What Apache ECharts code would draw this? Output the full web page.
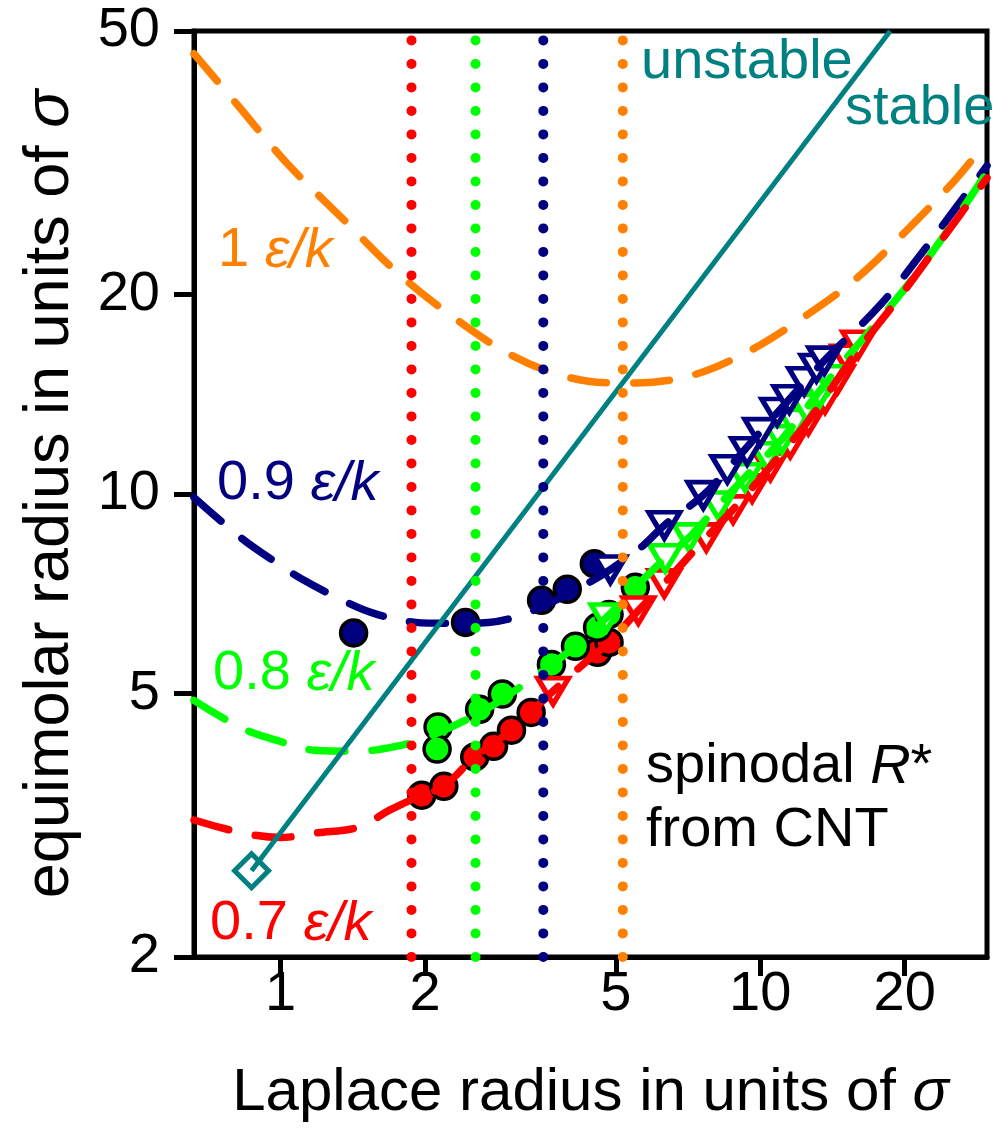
<!DOCTYPE html>
<html>
<head>
<meta charset="utf-8">
<script src="https://cdn.jsdelivr.net/npm/echarts@6/dist/echarts.min.js"></script>
<style>
html, body { margin: 0; padding: 0; background: #fff; }
#chart { width: 998px; height: 1138px; }
</style>
</head>
<body>
<div id="chart"></div>
<script>
const xTicks = [1, 2, 5, 10, 20]
const yTicks = [2, 5, 10, 20, 50]
const xRange = [0.66, 29.7]
const yRange = [2, 50]

// dashed model curves: [Laplace radius, equimolar radius]
const curve10 = [[0.66, 46.2], [0.81, 38.8], [1.03, 31.6], [1.35, 26.0], [1.75, 21.6], [2.29, 18.5], [3.03, 16.2], [3.98, 15.0], [5.11, 14.7], [6.94, 15.0], [9.13, 16.2], [12.06, 18.3], [15.8, 21.1], [20.2, 25.0], [25.6, 29.9], [29.7, 34.1]]
const curve09 = [[0.66, 9.88], [0.83, 8.57], [1.0, 7.80], [1.1, 7.46], [1.32, 6.96], [1.56, 6.61], [1.91, 6.40], [2.21, 6.38], [2.71, 6.40], [3.33, 6.65], [4.32, 7.30], [4.87, 7.69], [5.70, 8.36], [6.31, 8.97], [7.61, 9.96], [8.54, 10.9], [10.0, 12.4], [11.5, 13.9], [13.6, 15.9], [17.8, 19.3], [22.2, 23.6], [29.7, 31.3]]
const curve08 = [[0.66, 4.88], [0.83, 4.43], [1.0, 4.23], [1.19, 4.10], [1.45, 4.09], [1.74, 4.16], [2.02, 4.29], [2.61, 4.68], [3.27, 5.20], [3.67, 5.53], [4.12, 5.89], [4.78, 6.51], [5.49, 7.23], [6.34, 8.0], [7.11, 8.6], [8.18, 9.61], [9.3, 10.6], [11.1, 12.1], [13.9, 14.9], [20.0, 20.4], [24.5, 24.9], [29.7, 30.6]]
const curve07 = [[0.66, 3.22], [0.83, 3.08], [1.0, 3.03], [1.19, 3.08], [1.45, 3.14], [1.70, 3.34], [1.97, 3.51], [2.19, 3.62], [2.54, 4.01], [3.03, 4.40], [3.70, 5.04], [4.32, 5.57], [4.84, 5.97], [5.57, 6.67], [6.31, 7.33], [7.72, 8.6], [8.78, 9.48], [10.5, 11.0], [12.6, 12.9], [14.5, 14.9], [16.0, 16.5], [19.8, 20.1], [24.2, 24.5], [29.7, 30.0]]

// simulation results
const circles09 = [[1.42, 6.17], [2.43, 6.40], [3.50, 6.91], [3.96, 7.18], [4.51, 7.85]]
const circles08 = [[2.13, 4.45], [2.12, 4.12], [2.60, 4.73], [2.90, 4.99], [3.67, 5.53], [4.12, 5.89], [4.58, 6.29], [4.84, 6.58], [5.49, 7.23]]
const circles07 = [[1.97, 3.51], [2.19, 3.62], [2.54, 4.01], [2.78, 4.16], [3.03, 4.40], [3.33, 4.68], [4.58, 5.77], [4.84, 5.97]]
const triangles09 = [[4.87, 7.69], [6.31, 8.97], [7.61, 9.96], [8.54, 10.9], [9.39, 11.6], [10.0, 12.4], [10.85, 13.3], [11.5, 13.9], [12.35, 14.8], [13.1, 15.5], [13.6, 15.9]]
const triangles08 = [[4.78, 6.51], [6.34, 8.0], [7.11, 8.6], [8.18, 9.61], [9.3, 10.6], [10.34, 11.4], [11.1, 12.1], [11.8, 12.8], [12.5, 13.5], [13.3, 14.2], [13.9, 14.9]]
const triangles07 = [[3.70, 5.04], [5.57, 6.67], [6.31, 7.33], [7.72, 8.6], [8.78, 9.48], [9.62, 10.2], [10.5, 11.0], [11.55, 11.9], [12.6, 12.9], [13.65, 13.9], [14.5, 14.9], [15.2, 16.0], [16.0, 16.8]]

// stability boundary and spinodal radii from CNT
const boundary = [[0.87, 2.70], [18.66, 50]]
const spinodalX = [1.875, 2.55, 3.53, 5.17]

const FONT = 'Liberation Sans'
const RED = '#ff0000', GREEN = '#00ff00', NAVY = '#000080', ORANGE = '#ff8000', TEAL = '#008080'

const chart = echarts.init(document.getElementById('chart'))

const dashed = (data, color) => ({
    type: 'line',
    data,
    smooth: 0.35,
    symbol: 'none',
    silent: true,
    lineStyle: { color, width: 7.5, type: [36, 27], cap: 'round' }
})
const dots = (x, color) => ({
    type: 'line',
    data: [[x, yRange[0]], [x, yRange[1]]],
    symbol: 'none',
    silent: true,
    lineStyle: { color, width: 10, type: [0.1, 23.4], cap: 'round' }
})
const circles = (data, color) => ({
    type: 'scatter',
    data,
    symbol: 'circle',
    symbolSize: 26,
    itemStyle: { color, borderColor: '#000', borderWidth: 3.5, opacity: 1 }
})
const triangles = (data, color) => ({
    type: 'scatter',
    data,
    symbol: 'triangle',
    symbolRotate: 180,
    symbolSize: [31, 26],
    itemStyle: { color: '#fff', borderColor: color, borderWidth: 5, opacity: 1 }
})

const label = (x, y, parts, color) => ({
    type: 'text',
    x, y,
    style: {
        text: parts,
        fill: color,
        font: '56px "' + FONT + '"',
        verticalAlign: 'middle',
        rich: {
            n: { fontFamily: FONT, fontSize: 56, fill: color },
            i: { fontFamily: FONT, fontSize: 56, fontStyle: 'italic', fill: color }
        }
    }
})

chart.setOption({
    animation: false,
    backgroundColor: '#fff',
    grid: { left: 194, right: 11, top: 31, bottom: 181, show: true, borderColor: '#000', borderWidth: 5 },
    xAxis: {
        type: 'log',
        min: xRange[0],
        max: xRange[1],
        name: '{t|Laplace radius in units of }{s|σ}',
        nameLocation: 'middle',
        nameGap: 106,
        nameTextStyle: {
            rich: {
                t: { fontFamily: FONT, fontSize: 60, color: '#000' },
                s: { fontFamily: FONT, fontSize: 60, fontStyle: 'italic', color: '#000' }
            }
        },
        axisLine: { lineStyle: { color: '#000', width: 5 } },
        axisTick: { customValues: xTicks, length: 19, lineStyle: { color: '#000', width: 5 } },
        minorTick: { show: false },
        axisLabel: { customValues: xTicks, margin: 10, fontFamily: FONT, fontSize: 56, color: '#000' },
        splitLine: { show: false }
    },
    yAxis: {
        type: 'log',
        min: yRange[0],
        max: yRange[1],
        name: '{t|equimolar radius in units of }{s|σ}',
        nameLocation: 'middle',
        nameGap: 112,
        nameTextStyle: {
            rich: {
                t: { fontFamily: FONT, fontSize: 63, color: '#000' },
                s: { fontFamily: FONT, fontSize: 63, fontStyle: 'italic', color: '#000' }
            }
        },
        axisLine: { lineStyle: { color: '#000', width: 5 } },
        axisTick: { customValues: yTicks, length: 20, lineStyle: { color: '#000', width: 5 } },
        axisLabel: { customValues: yTicks, margin: 34, fontFamily: FONT, fontSize: 56, color: '#000' },
        splitLine: { show: false }
    },
    series: [
        dashed(curve10, ORANGE),
        dashed(curve09, NAVY),
        dashed(curve08, GREEN),
        dashed(curve07, RED),
        {
            type: 'line',
            data: boundary,
            symbol: 'none',
            silent: true,
            lineStyle: { color: TEAL, width: 5 }
        },
        circles(circles07, RED),
        circles(circles08, GREEN),
        circles(circles09, NAVY),
        triangles(triangles07, RED),
        triangles(triangles08, GREEN),
        triangles(triangles09, NAVY),
        {
            type: 'scatter',
            data: [boundary[0]],
            symbol: 'diamond',
            symbolSize: 34,
            itemStyle: { color: '#fff', borderColor: TEAL, borderWidth: 5, opacity: 1 }
        },
        dots(spinodalX[0], RED),
        dots(spinodalX[1], GREEN),
        dots(spinodalX[2], NAVY),
        dots(spinodalX[3], ORANGE)
    ],
    graphic: [
        label(641, 63, '{n|unstable}', TEAL),
        label(845, 109, '{n|stable}', TEAL),
        label(218, 251, '{n|1 }{i|ε/k}', ORANGE),
        label(217, 484, '{n|0.9 }{i|ε/k}', NAVY),
        label(213, 674, '{n|0.8 }{i|ε/k}', GREEN),
        label(210, 924, '{n|0.7 }{i|ε/k}', RED),
        label(646, 767, '{n|spinodal }{i|R}{n|*}', '#000'),
        label(646, 831, '{n|from CNT}', '#000')
    ]
})
</script>
</body>
</html>
